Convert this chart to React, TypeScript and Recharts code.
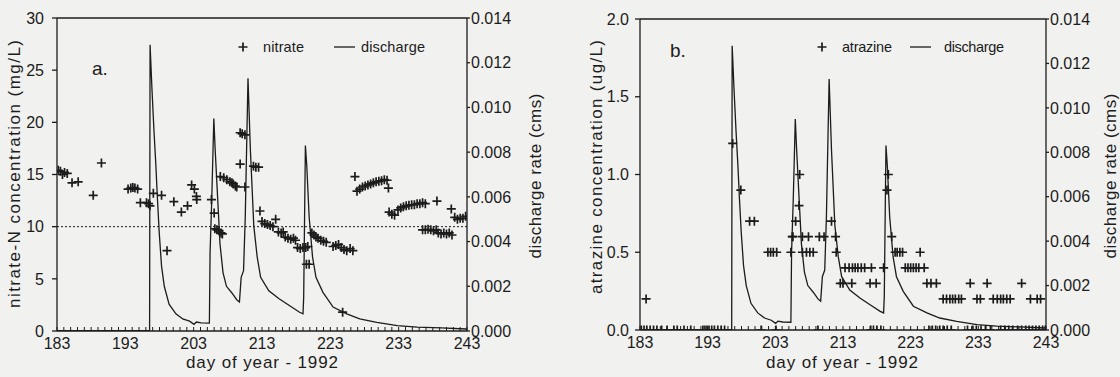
import React from 'react';
import { ComposedChart, Line, Scatter, XAxis, YAxis, ReferenceLine } from 'recharts';

const FONT = '"Liberation Sans", Arial, sans-serif';
const INK = '#1c1c1c';
const BG = '#f1f1ef';

// ---- axis ticks ----
const dayTicks = [183, 193, 203, 213, 223, 233, 243];
const minorDayTicks = Array.from({ length: 61 }, (_, i) => 183 + i);
const nitrateTicks = [0, 5, 10, 15, 20, 25, 30];
const atrazineTicks = [0, 0.5, 1.0, 1.5, 2.0];
const dischargeTicks = [0, 0.002, 0.004, 0.006, 0.008, 0.01, 0.012, 0.014];

// ---- discharge (cms) ----
const dischargeDay = [
  183, 196.55, 196.62, 196.9, 197.2, 197.47, 197.7, 197.96, 198.3, 198.7, 199.4, 200.4, 201.4, 202.4,
  203.05, 203.4, 204.1, 205.3, 205.4, 205.65, 205.95, 206.15, 206.5, 206.85, 207.3, 207.8, 208.6,
  209.3, 209.7, 209.95, 210.3, 210.55, 210.95, 211.3, 211.8, 212.3, 212.8, 214.0, 215.5, 217.0,
  218.5, 219.0, 219.1, 219.35, 219.55, 219.9, 220.4, 220.9, 221.9, 223.4, 225.4, 227.3, 229.8,
  232.8, 235.7, 239.2, 242.9, 243,
];
const dischargeRate = [
  0.00002, 0.00003, 0.0128, 0.0108, 0.0089, 0.0074, 0.0059, 0.0044, 0.0029, 0.002, 0.0012, 0.00077,
  0.00054, 0.00044, 0.0003, 0.0004, 0.00036, 0.00035, 0.0035, 0.0059, 0.0095, 0.0081, 0.006, 0.0039,
  0.0026, 0.002, 0.0017, 0.0014, 0.0013, 0.0024, 0.0027, 0.0051, 0.0113, 0.0081, 0.0047, 0.0033,
  0.0024, 0.0018, 0.00144, 0.00114, 0.00084, 0.00077, 0.0015, 0.0083, 0.0074, 0.0051, 0.0033,
  0.0024, 0.00174, 0.00107, 0.00077, 0.00054, 0.00039, 0.00024, 0.00017, 0.00014, 0.00009, 0.00008,
];

// ---- nitrate-N (mg/L) ----
const nitrateDay = [
  183.2, 183.5, 183.8, 184.1, 184.5, 185.2, 186.1, 188.3, 189.5, 193.4, 193.8, 194.1, 194.4, 194.8,
  195.2, 196.1, 196.4, 196.6, 197.1, 198.3, 199.1, 200.1, 201.2, 202.1, 202.7, 203.1, 203.4, 203.45,
  205.6, 206.0, 206.1, 206.4, 206.7, 207.0, 207.2, 206.9, 207.4, 207.85, 208.3, 208.6, 208.8, 209.1,
  209.3, 210.5, 209.8, 210.1, 210.5, 209.8, 211.75, 212.1, 212.5, 212.7, 213.0, 213.4, 213.8, 214.2,
  214.6, 215.0, 215.4, 215.8, 216.1, 216.4, 216.8, 217.2, 217.6, 217.9, 218.2, 218.6, 219.0, 219.4,
  219.7, 219.5, 219.9, 220.3, 220.6, 220.9, 221.2, 221.6, 222.0, 222.4, 223.4, 223.8, 224.2, 224.6,
  225.0, 225.4, 225.9, 226.3, 224.8, 226.6, 226.9, 227.3, 227.7, 228.1, 228.5, 228.9, 229.3, 229.7,
  230.1, 230.5, 230.9, 231.3, 231.5, 231.6, 232.0, 232.4, 232.9, 233.3, 233.7, 234.1, 234.5, 234.9,
  235.3, 235.7, 236.1, 236.5, 236.9, 238.6, 236.5, 236.9, 237.3, 237.7, 238.1, 238.5, 238.8, 239.2,
  239.6, 240.0, 240.4, 240.8, 240.7, 241.2, 241.6, 242.0, 242.4, 242.8,
];
const nitrateConc = [
  15.4, 15.3, 15.0, 15.2, 15.1, 14.2, 14.3, 13.0, 16.1, 13.6, 13.7, 13.75, 13.7, 13.6,
  12.3, 12.3, 12.2, 12.0, 13.2, 13.0, 7.7, 12.4, 11.4, 12.0, 14.0, 13.6, 12.9, 12.6,
  12.6, 11.3, 9.8, 9.7, 9.6, 9.4, 9.3, 14.8, 14.7, 14.5, 14.3, 14.2, 14.1, 13.9,
  13.8, 13.8, 19.0, 18.9, 18.8, 16.0, 15.8, 15.7, 15.7, 11.5, 10.5, 10.3, 10.2, 10.1,
  10.0, 10.7, 9.5, 9.4, 9.5, 9.0, 8.9, 8.8, 8.9, 8.7, 8.0, 7.9, 8.0, 8.0,
  8.1, 6.4, 6.4, 9.4, 9.2, 9.0, 8.9, 8.7, 8.6, 8.5, 8.1, 8.2, 8.3, 8.0,
  7.8, 7.7, 7.9, 7.7, 1.8, 14.8, 13.4, 13.6, 13.8, 13.9, 14.0, 14.1, 14.2, 14.3,
  14.35, 14.4, 14.5, 14.45, 13.7, 11.4, 11.2, 11.1, 11.6, 11.8, 11.9, 12.0, 12.05, 12.1,
  12.1, 12.2, 12.2, 12.3, 12.2, 12.45, 9.7, 9.7, 9.75, 9.7, 9.6, 9.7, 9.4, 9.3,
  9.4, 9.3, 9.4, 9.2, 11.7, 10.9, 10.7, 10.8, 10.8, 11.0,
];

// ---- atrazine (ug/L) ----
const atrazineDay = [
  183.2, 183.6, 184.0, 184.5, 185.0, 185.5, 186.2, 187.0, 188.0, 188.5, 189.5, 190.5, 192.3, 192.6,
  192.9, 193.2, 193.6, 194.0, 194.5, 195.0, 195.5, 200.9, 203.1, 209.3, 217.1, 217.5, 218.0, 218.6,
  225.7, 226.2, 226.7, 227.3, 227.8, 228.4, 229.0, 231.4, 232.2, 232.7, 233.4, 234.1, 234.8, 236.3,
  236.9, 237.5, 238.1, 238.8, 239.4, 240.0, 240.5, 241.0, 241.5, 242.0, 242.5, 242.9,
  183.9, 196.7, 197.9, 199.2, 199.9, 201.9, 202.3, 202.7, 203.2, 205.3, 205.5, 205.6, 206.0, 206.5,
  206.6, 207.0, 207.9, 207.0, 207.6, 208.1, 208.6, 209.5, 210.2, 211.3, 211.9, 212.0, 212.6, 213.0,
  213.3, 214.3, 213.9, 214.4, 214.8, 215.2, 215.7, 216.2, 217.2, 217.0, 217.9, 219.0, 219.5, 219.7,
  220.2, 220.7, 221.0, 221.4, 221.8, 224.4, 222.2, 222.6, 223.0, 223.4, 223.8, 224.2, 225.0, 225.4,
  226.0, 226.8, 231.8, 234.3, 239.4, 227.8, 228.3, 228.8, 229.2, 229.6, 230.1, 230.5, 232.8, 233.3,
  235.2, 235.8, 236.3, 236.7, 237.2, 237.7, 240.7, 241.7, 242.2,
];
const atrazineConc = [
  0, 0, 0, 0, 0, 0, 0, 0, 0, 0, 0, 0, 0, 0,
  0, 0, 0, 0, 0, 0, 0, 0, 0, 0, 0, 0, 0, 0,
  0, 0, 0, 0, 0, 0, 0, 0, 0, 0, 0, 0, 0, 0,
  0, 0, 0, 0, 0, 0, 0, 0, 0, 0, 0, 0,
  0.2, 1.2, 0.9, 0.7, 0.7, 0.5, 0.5, 0.5, 0.5, 0.5, 0.6, 0.6, 0.7, 0.8,
  1.0, 0.6, 0.6, 0.5, 0.5, 0.5, 0.5, 0.6, 0.6, 0.7, 0.6, 0.5, 0.3, 0.3,
  0.4, 0.3, 0.4, 0.4, 0.4, 0.4, 0.4, 0.4, 0.4, 0.3, 0.3, 0.4, 0.9, 1.0,
  0.6, 0.5, 0.5, 0.5, 0.5, 0.5, 0.4, 0.4, 0.4, 0.4, 0.4, 0.4, 0.4, 0.3,
  0.3, 0.3, 0.3, 0.3, 0.3, 0.2, 0.2, 0.2, 0.2, 0.2, 0.2, 0.2, 0.2, 0.2,
  0.2, 0.2, 0.2, 0.2, 0.2, 0.2, 0.2, 0.2, 0.2,
];

const dischargeData = dischargeDay.map((d, i) => ({ day: d, q: dischargeRate[i] }));
const nitrateData = nitrateDay.map((d, i) => ({ day: d, c: nitrateConc[i] }));
const atrazineData = atrazineDay.map((d, i) => ({ day: d, c: atrazineConc[i] }));

const Cross = (props: any) => {
  const { cx, cy } = props;
  if (cx == null || cy == null || isNaN(cx) || isNaN(cy)) return <g />;
  const s = 4.5;
  return (
    <path
      d={`M${cx - s},${cy}H${cx + s}M${cx},${cy - s}V${cy + s}`}
      stroke={INK}
      strokeWidth={1.7}
      fill="none"
    />
  );
};

const XTick = (props: any) => {
  const { x, y, payload } = props;
  if (!dayTicks.includes(payload.value)) return <g />;
  return (
    <text x={x} y={y + 22} textAnchor="middle" fontSize={16} fontFamily={FONT} fill={INK}>
      {payload.value}
    </text>
  );
};

const tickStyle = { fontSize: 16, fill: INK, fontFamily: FONT };
const lineStyle = { stroke: INK, strokeWidth: 1.3 };

const xAxisEl = (
  <XAxis
    dataKey="day"
    type="number"
    domain={[183, 243]}
    ticks={minorDayTicks}
    interval={0}
    mirror
    tickSize={4}
    tickMargin={0}
    tick={XTick}
    axisLine={lineStyle}
    tickLine={{ stroke: INK, strokeWidth: 1 }}
    allowDataOverflow
  />
);

const dischargeAxis = (width: number) => (
  <YAxis
    yAxisId="q"
    orientation="right"
    type="number"
    width={width}
    domain={[0, 0.014]}
    ticks={dischargeTicks}
    interval={0}
    tickFormatter={(v: number) => v.toFixed(3)}
    tickSize={3}
    tickMargin={1}
    tick={tickStyle}
    axisLine={lineStyle}
    tickLine={lineStyle}
    allowDataOverflow
  />
);

const textProps = { fontFamily: FONT, fill: INK };

export default function App() {
  return (
    <div
      style={{
        position: 'absolute',
        left: 0,
        top: 0,
        width: 1120,
        height: 377,
        background: BG,
        overflow: 'hidden',
      }}
    >
      <div style={{ position: 'absolute', left: 0, top: 0 }}>
        <ComposedChart width={560} height={377} margin={{ top: 18, right: 0, bottom: 46, left: 0 }}>
          {xAxisEl}
          <YAxis
            yAxisId="c"
            orientation="left"
            type="number"
            width={57}
            domain={[0, 30]}
            ticks={nitrateTicks}
            interval={0}
            tickSize={5}
            tickMargin={8}
            tick={tickStyle}
            axisLine={lineStyle}
            tickLine={lineStyle}
            allowDataOverflow
          />
          {dischargeAxis(93)}
          <ReferenceLine yAxisId="c" y={30} stroke={INK} strokeWidth={1.3} />
          <ReferenceLine yAxisId="c" y={10} stroke={INK} strokeWidth={1} strokeDasharray="2 2" />
          <Line
            yAxisId="q"
            data={dischargeData}
            dataKey="q"
            type="linear"
            stroke={INK}
            strokeWidth={1.3}
            dot={false}
            activeDot={false}
            isAnimationActive={false}
          />
          <Scatter
            yAxisId="c"
            data={nitrateData}
            dataKey="c"
            shape={<Cross />}
            isAnimationActive={false}
          />
        </ComposedChart>
      </div>

      <div style={{ position: 'absolute', left: 560, top: 0 }}>
        <ComposedChart width={560} height={377} margin={{ top: 19, right: 0, bottom: 47, left: 0 }}>
          {xAxisEl}
          <YAxis
            yAxisId="c"
            orientation="left"
            type="number"
            width={80}
            domain={[0, 2]}
            ticks={atrazineTicks}
            interval={0}
            tickFormatter={(v: number) => v.toFixed(1)}
            tickSize={5}
            tickMargin={6}
            tick={tickStyle}
            axisLine={lineStyle}
            tickLine={lineStyle}
            allowDataOverflow
          />
          {dischargeAxis(74)}
          <ReferenceLine yAxisId="c" y={2} stroke={INK} strokeWidth={1.3} />
          <Line
            yAxisId="q"
            data={dischargeData}
            dataKey="q"
            type="linear"
            stroke={INK}
            strokeWidth={1.3}
            dot={false}
            activeDot={false}
            isAnimationActive={false}
          />
          <Scatter
            yAxisId="c"
            data={atrazineData}
            dataKey="c"
            shape={<Cross />}
            isAnimationActive={false}
          />
        </ComposedChart>
      </div>

      <svg
        width={1120}
        height={377}
        style={{ position: 'absolute', left: 0, top: 0, pointerEvents: 'none' }}
      >
        {/* panel a */}
        <text x={92} y={75} fontSize={19} {...textProps}>a.</text>
        <path d="M238.5,47H247.5M243,42.5V51.5" stroke={INK} strokeWidth={1.7} />
        <text x={263} y={52} fontSize={14.5} textLength={41} lengthAdjust="spacing" {...textProps}>nitrate</text>
        <line x1={334} y1={47} x2={355} y2={47} stroke={INK} strokeWidth={1.3} />
        <text x={361} y={52} fontSize={14.5} textLength={64} lengthAdjust="spacing" {...textProps}>discharge</text>
        <text
          transform="translate(20,174) rotate(-90)"
          textAnchor="middle"
          fontSize={17}
          textLength={268}
          lengthAdjust="spacing"
          {...textProps}
        >
          nitrate-N concentration (mg/L)
        </text>
        <text
          transform="translate(541,176) rotate(-90)"
          textAnchor="middle"
          fontSize={17}
          textLength={165}
          lengthAdjust="spacing"
          {...textProps}
        >
          discharge rate (cms)
        </text>
        <text x={262} y={368} textAnchor="middle" fontSize={17} textLength={152} lengthAdjust="spacing" {...textProps}>
          day of year - 1992
        </text>

        {/* panel b */}
        <text x={670} y={57} fontSize={19} {...textProps}>b.</text>
        <path d="M817.5,47H826.5M822,42.5V51.5" stroke={INK} strokeWidth={1.7} />
        <text x={842} y={52} fontSize={14.5} textLength={50} lengthAdjust="spacing" {...textProps}>atrazine</text>
        <line x1={910} y1={47} x2={931} y2={47} stroke={INK} strokeWidth={1.3} />
        <text x={944} y={52} fontSize={14.5} textLength={60} lengthAdjust="spacing" {...textProps}>discharge</text>
        <text
          transform="translate(602,167) rotate(-90)"
          textAnchor="middle"
          fontSize={17}
          textLength={254}
          lengthAdjust="spacing"
          {...textProps}
        >
          atrazine concentration (ug/L)
        </text>
        <text
          transform="translate(1116,176) rotate(-90)"
          textAnchor="middle"
          fontSize={17}
          textLength={165}
          lengthAdjust="spacing"
          {...textProps}
        >
          discharge rate (cms)
        </text>
        <text x={842} y={368} textAnchor="middle" fontSize={17} textLength={152} lengthAdjust="spacing" {...textProps}>
          day of year - 1992
        </text>
      </svg>
    </div>
  );
}
